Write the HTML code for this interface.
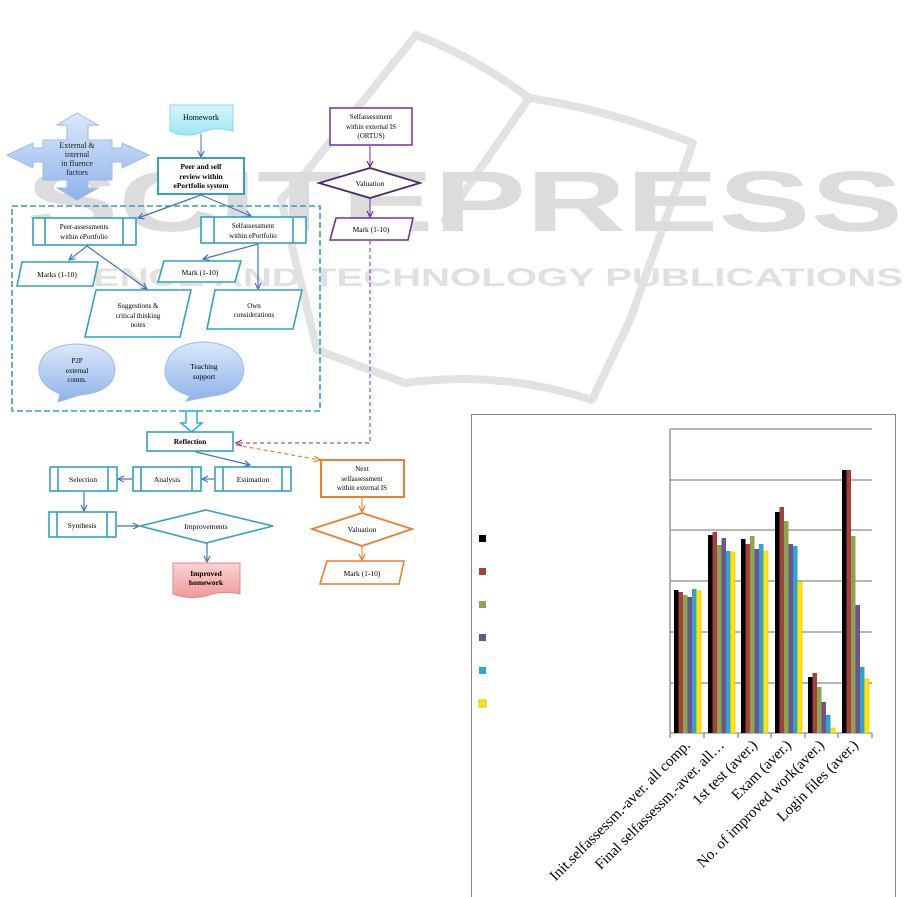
<!DOCTYPE html>
<html><head><meta charset="utf-8"><style>
html,body{margin:0;padding:0;background:#fff;}
svg{display:block;font-family:"Liberation Serif",serif;}
</style></head><body>
<svg width="915" height="897" viewBox="0 0 915 897" xmlns="http://www.w3.org/2000/svg">
<defs>
<linearGradient id="gb" x1="0" y1="0" x2="0" y2="1"><stop offset="0" stop-color="#dbe8fb"/><stop offset="1" stop-color="#8eb3ea"/></linearGradient>
<linearGradient id="gc" x1="0" y1="0" x2="0" y2="1"><stop offset="0" stop-color="#d5f6fc"/><stop offset="1" stop-color="#9ee6f5"/></linearGradient>
<linearGradient id="gp" x1="0" y1="0" x2="0" y2="1"><stop offset="0" stop-color="#fbd3d3"/><stop offset="1" stop-color="#f09a9a"/></linearGradient>
<marker id="ab" markerWidth="8" markerHeight="8" refX="7" refY="4" orient="auto" markerUnits="userSpaceOnUse"><path d="M1,1 L7,4 L1,7" fill="none" stroke="#4472c4" stroke-width="1.2"/></marker>
<marker id="ap" markerWidth="8" markerHeight="8" refX="7" refY="4" orient="auto" markerUnits="userSpaceOnUse"><path d="M1,1 L7,4 L1,7" fill="none" stroke="#7030a0" stroke-width="1.2"/></marker>
<marker id="ao" markerWidth="8" markerHeight="8" refX="7" refY="4" orient="auto" markerUnits="userSpaceOnUse"><path d="M1,1 L7,4 L1,7" fill="none" stroke="#ed7d31" stroke-width="1.2"/></marker>
</defs>

<!-- watermark -->
<g fill="none" stroke="#e2e2e2" stroke-width="8" stroke-linejoin="round" stroke-linecap="round">
<path d="M302,177 L416,35 Q480,60 529,98 Q610,110 693,143 L630,320 L592,400 Q500,370 405,383 L317,350 L281,200 Z"/>
<path d="M529,98 L445,220"/>
</g>
<text x="26" y="231" font-family="Liberation Sans,sans-serif" font-weight="bold" font-size="86" fill="#dcdcdc" textLength="877" lengthAdjust="spacingAndGlyphs">SCITEPRESS</text>
<text x="26" y="286" font-family="Liberation Sans,sans-serif" font-weight="bold" font-size="25" fill="#e0e0e0" textLength="877" lengthAdjust="spacingAndGlyphs">SCIENCE AND TECHNOLOGY PUBLICATIONS</text>

<!-- cross arrow -->
<path d="M77,113 L98,125 L88,125 L88,140 L112,140 L112,148 L122,148 L122,143 L149,155 L122,168 L122,162 L112,162 L112,180 L88,180 L88,188 L98,188 L77,200 L57,188 L67,188 L67,180 L43,180 L43,162 L33,162 L33,168 L7,155 L33,143 L33,148 L43,148 L43,140 L67,140 L67,125 L57,125 Z" fill="url(#gb)" stroke="#9fbbe6" stroke-width="1"/>
<g font-size="8" text-anchor="middle" fill="#222">
<text x="77" y="148">External &amp;</text><text x="77" y="157">internal</text><text x="77" y="166">in fluence</text><text x="77" y="175">factors</text>
</g>

<!-- homework -->
<path d="M170,105 L233,105 L233,131 Q215,126 200,133 Q185,138 170,131 Z" fill="url(#gc)" stroke="#8fd6e8" stroke-width="1"/>
<text x="201" y="120" font-size="8" text-anchor="middle">Homework</text>
<line x1="201" y1="134" x2="201" y2="157" stroke="#4472c4" stroke-width="1" marker-end="url(#ab)"/>

<rect x="158" y="158" width="86" height="36" fill="#fff" stroke="#31a2c4" stroke-width="2"/>
<g font-size="7.5" font-weight="bold" text-anchor="middle"><text x="201" y="169">Peer and self</text><text x="201" y="179">review within</text><text x="201" y="188">ePortfolio system</text></g>

<!-- dashed container -->
<rect x="12" y="206" width="308" height="205" fill="none" stroke="#31a2c4" stroke-width="1.6" stroke-dasharray="6,3"/>

<line x1="201" y1="195" x2="138" y2="218" stroke="#4472c4" stroke-width="1.2" marker-end="url(#ab)"/>
<line x1="201" y1="195" x2="251" y2="216" stroke="#4472c4" stroke-width="1.2" marker-end="url(#ab)"/>

<g fill="#fff" stroke="#31a2c4" stroke-width="1.6">
<rect x="33" y="218" width="103" height="27"/><line x1="45" y1="218" x2="45" y2="245"/><line x1="123" y1="218" x2="123" y2="245"/>
<rect x="201" y="217" width="105" height="26"/><line x1="214" y1="217" x2="214" y2="243"/><line x1="293" y1="217" x2="293" y2="243"/>
<polygon points="22,262 98,262 93,286 17,286"/>
<polygon points="164,261 241,261 235,282 158,282"/>
<polygon points="96,290 191,290 180,337 85,337"/>
<polygon points="215,290 302,290 293,329 207,329"/>
</g>
<g font-size="7" text-anchor="middle">
<text x="84" y="229">Peer-assessments</text><text x="84" y="239">within ePortfolio</text>
<text x="253" y="228">Selfassessment</text><text x="253" y="238">within ePortfolio</text>
<text x="57" y="277" font-size="7.5">Marks (1-10)</text>
<text x="200" y="275" font-size="7.5">Mark (1-10)</text>
<text x="138" y="308">Suggestions &amp;</text><text x="138" y="318">critical thinking</text><text x="138" y="327">notes</text>
<text x="254" y="308">Own</text><text x="254" y="317">considerations</text>
</g>
<g stroke="#4472c4" stroke-width="1.2" fill="none">
<line x1="87" y1="246" x2="69" y2="260" marker-end="url(#ab)"/>
<line x1="87" y1="246" x2="147" y2="289" marker-end="url(#ab)"/>
<line x1="258" y1="244" x2="203" y2="259" marker-end="url(#ab)"/>
<line x1="258" y1="244" x2="258" y2="289" marker-end="url(#ab)"/>
</g>

<!-- bubbles -->
<path d="M60,394 Q38,385 39,368 Q42,345 77,344 Q114,346 115,370 Q114,392 80,395 L58,402 Z" fill="url(#gb)" stroke="#9fbbe6" stroke-width="1"/>
<g font-size="7" text-anchor="middle"><text x="77" y="363">P2P</text><text x="77" y="373">external</text><text x="77" y="382">comm.</text></g>
<path d="M190,396 Q164,388 165,370 Q168,343 204,342 Q242,344 244,370 Q242,393 212,396 L186,401 Z" fill="url(#gb)" stroke="#9fbbe6" stroke-width="1"/>
<g font-size="7.5" text-anchor="middle"><text x="204" y="369">Teaching</text><text x="204" y="379">support</text></g>

<!-- hollow arrow -->
<path d="M186,411 L197,411 L197,423 L202,423 L191.5,432 L181,423 L186,423 Z" fill="#fff" stroke="#1fb0e8" stroke-width="1.5"/>

<!-- purple -->
<rect x="330" y="108" width="82" height="37" fill="#fff" stroke="#7030a0" stroke-width="1.5"/>
<g font-size="7" text-anchor="middle"><text x="371" y="119">Selfassessment</text><text x="371" y="129">within external IS</text><text x="371" y="138">(ORTUS)</text></g>
<line x1="370" y1="146" x2="370" y2="167" stroke="#7030a0" stroke-width="1" marker-end="url(#ap)"/>
<polygon points="370,168 420,183 370,198 319,183" fill="#fff" stroke="#4b2a6e" stroke-width="1.8"/>
<text x="370" y="186" font-size="7.5" text-anchor="middle">Valuation</text>
<line x1="370" y1="198" x2="370" y2="217" stroke="#7030a0" stroke-width="1" marker-end="url(#ap)"/>
<polygon points="336,218 413,218 408,240 330,240" fill="#fff" stroke="#7030a0" stroke-width="1.6"/>
<text x="371" y="232" font-size="7.5" text-anchor="middle">Mark (1-10)</text>
<path d="M370,241 L370,443 L236,443" fill="none" stroke="#7030a0" stroke-width="1" stroke-dasharray="4,3" marker-end="url(#ap)"/>

<!-- reflection area -->
<rect x="147" y="432" width="86" height="19" fill="#fff" stroke="#31a2c4" stroke-width="1.6"/>
<text x="190" y="444" font-size="7.5" font-weight="bold" text-anchor="middle">Reflection</text>
<line x1="236" y1="445" x2="320" y2="460" stroke="#ed7d31" stroke-width="1.2" stroke-dasharray="4,3" marker-end="url(#ao)"/>
<line x1="196" y1="452" x2="250" y2="465" stroke="#4472c4" stroke-width="1.2" marker-end="url(#ab)"/>
<g fill="#fff" stroke="#31a2c4" stroke-width="1.6">
<rect x="215" y="467" width="76" height="24"/><line x1="223" y1="467" x2="223" y2="491"/><line x1="282" y1="467" x2="282" y2="491"/>
<rect x="133" y="467" width="68" height="24"/><line x1="141" y1="467" x2="141" y2="491"/><line x1="192" y1="467" x2="192" y2="491"/>
<rect x="50" y="467" width="67" height="24"/><line x1="58" y1="467" x2="58" y2="491"/><line x1="108" y1="467" x2="108" y2="491"/>
<rect x="49" y="512" width="67" height="25"/><line x1="57" y1="512" x2="57" y2="537"/><line x1="107" y1="512" x2="107" y2="537"/>
<polygon points="206,510 273,526 206,543 140,526"/>
</g>
<g font-size="7.5" text-anchor="middle">
<text x="253" y="482">Estimation</text><text x="167" y="482">Analysis</text><text x="83" y="482">Selection</text><text x="82" y="528">Synthesis</text><text x="206" y="529">Improvements</text>
</g>
<g stroke="#4472c4" stroke-width="1.2" fill="none">
<line x1="214" y1="479" x2="202" y2="479" marker-end="url(#ab)"/>
<line x1="132" y1="479" x2="118" y2="479" marker-end="url(#ab)"/>
<line x1="84" y1="492" x2="84" y2="511" marker-end="url(#ab)"/>
<line x1="117" y1="526" x2="139" y2="526" marker-end="url(#ab)"/>
<line x1="207" y1="543" x2="207" y2="562" marker-end="url(#ab)"/>
</g>
<path d="M173,563 L240,563 L240,594 Q222,590 206,596 Q190,600 173,594 Z" fill="url(#gp)" stroke="#e08a8a" stroke-width="1"/>
<g font-size="7.5" font-weight="bold" text-anchor="middle"><text x="206" y="576">Improved</text><text x="206" y="585">homework</text></g>

<!-- orange -->
<rect x="321" y="460" width="83" height="37" fill="#fff" stroke="#ed7d31" stroke-width="2"/>
<g font-size="7" text-anchor="middle"><text x="362" y="471">Next</text><text x="362" y="481">selfassessment</text><text x="362" y="490">within external IS</text></g>
<line x1="362" y1="498" x2="362" y2="512" stroke="#ed7d31" stroke-width="1" marker-end="url(#ao)"/>
<polygon points="362,513 412,529 362,546 312,529" fill="#fff" stroke="#ed7d31" stroke-width="1.8"/>
<text x="362" y="532" font-size="7.5" text-anchor="middle">Valuation</text>
<line x1="362" y1="546" x2="362" y2="560" stroke="#ed7d31" stroke-width="1" marker-end="url(#ao)"/>
<polygon points="327,561 404,561 399,584 320,584" fill="#fff" stroke="#ed7d31" stroke-width="1.6"/>
<text x="362" y="576" font-size="7.5" text-anchor="middle">Mark (1-10)</text>

<!-- chart -->
<rect x="471.5" y="414.5" width="424" height="490" fill="#fff" stroke="#888" stroke-width="1"/>
<g stroke="#8c8c8c" stroke-width="1.3">
<line x1="670" y1="429" x2="872" y2="429"/><line x1="670" y1="480" x2="872" y2="480"/><line x1="670" y1="530" x2="872" y2="530"/>
<line x1="670" y1="581" x2="872" y2="581"/><line x1="670" y1="632" x2="872" y2="632"/><line x1="670" y1="683" x2="872" y2="683"/>
<line x1="670" y1="733" x2="872" y2="733"/><line x1="670" y1="429" x2="670" y2="733"/>
<line x1="670" y1="733" x2="670" y2="738"/><line x1="704" y1="733" x2="704" y2="738"/><line x1="738" y1="733" x2="738" y2="738"/><line x1="771" y1="733" x2="771" y2="738"/><line x1="805" y1="733" x2="805" y2="738"/><line x1="838" y1="733" x2="838" y2="738"/><line x1="872" y1="733" x2="872" y2="738"/>
</g>
<g>
<rect x="674" y="590" width="4.5" height="143" fill="#000"/><rect x="678.5" y="592" width="4.5" height="141" fill="#a5403c"/><rect x="683" y="595" width="4.5" height="138" fill="#8aa64e"/><rect x="687.5" y="597" width="4.5" height="136" fill="#6e548f"/><rect x="692" y="589" width="4.5" height="144" fill="#2ba6d4"/><rect x="696.5" y="591" width="4.5" height="142" fill="#ffe600" stroke="#f5b800" stroke-width="0.6"/>
<rect x="708" y="535" width="4.5" height="198" fill="#000"/><rect x="712.5" y="532" width="4.5" height="201" fill="#a5403c"/><rect x="717" y="545" width="4.5" height="188" fill="#8aa64e"/><rect x="721.5" y="538" width="4.5" height="195" fill="#6e548f"/><rect x="726" y="551" width="4.5" height="182" fill="#2ba6d4"/><rect x="730.5" y="552" width="4.5" height="181" fill="#ffe600" stroke="#f5b800" stroke-width="0.6"/>
<rect x="741" y="539" width="4.5" height="194" fill="#000"/><rect x="745.5" y="544" width="4.5" height="189" fill="#a5403c"/><rect x="750" y="536" width="4.5" height="197" fill="#8aa64e"/><rect x="754.5" y="549" width="4.5" height="184" fill="#6e548f"/><rect x="759" y="544" width="4.5" height="189" fill="#2ba6d4"/><rect x="763.5" y="551" width="4.5" height="182" fill="#ffe600" stroke="#f5b800" stroke-width="0.6"/>
<rect x="775" y="512" width="4.5" height="221" fill="#000"/><rect x="779.5" y="507" width="4.5" height="226" fill="#a5403c"/><rect x="784" y="521" width="4.5" height="212" fill="#8aa64e"/><rect x="788.5" y="544" width="4.5" height="189" fill="#6e548f"/><rect x="793" y="546" width="4.5" height="187" fill="#2ba6d4"/><rect x="797.5" y="582" width="4.5" height="151" fill="#ffe600" stroke="#f5b800" stroke-width="0.6"/>
<rect x="808" y="677" width="4.5" height="56" fill="#000"/><rect x="812.5" y="673" width="4.5" height="60" fill="#a5403c"/><rect x="817" y="687" width="4.5" height="46" fill="#8aa64e"/><rect x="821.5" y="702" width="4.5" height="31" fill="#6e548f"/><rect x="826" y="715" width="4.5" height="18" fill="#2ba6d4"/><rect x="830.5" y="728" width="4.5" height="5" fill="#ffe600" stroke="#f5b800" stroke-width="0.6"/>
<rect x="842" y="470" width="4.5" height="263" fill="#000"/><rect x="846.5" y="470" width="4.5" height="263" fill="#a5403c"/><rect x="851" y="536" width="4.5" height="197" fill="#8aa64e"/><rect x="855.5" y="605" width="4.5" height="128" fill="#6e548f"/><rect x="860" y="667" width="4.5" height="66" fill="#2ba6d4"/><rect x="864.5" y="679" width="4.5" height="54" fill="#ffe600" stroke="#f5b800" stroke-width="0.6"/>
</g>
<rect x="479" y="535" width="7" height="7" fill="#000"/>
<rect x="479" y="568" width="7" height="7" fill="#a5403c"/>
<rect x="479" y="601" width="7" height="7" fill="#8aa64e"/>
<rect x="479" y="634" width="7" height="7" fill="#6e548f"/>
<rect x="479" y="667" width="7" height="7" fill="#2ba6d4"/>
<rect x="479" y="700" width="7" height="7" fill="#ffe600" stroke="#f5b800"/>
<g font-size="15" fill="#000" text-anchor="end">
<text transform="translate(691,746) rotate(-45)">Init.selfassessm.-aver. all comp.</text>
<text transform="translate(725,746) rotate(-45)">Final selfassessm.-aver. all…</text>
<text transform="translate(758,746) rotate(-45)">1st test (aver.)</text>
<text transform="translate(792,746) rotate(-45)">Exam (aver.)</text>
<text transform="translate(825,746) rotate(-45)">No. of improved work(aver.)</text>
<text transform="translate(859,746) rotate(-45)">Login files (aver.)</text>
</g>
</svg>
</body></html>
